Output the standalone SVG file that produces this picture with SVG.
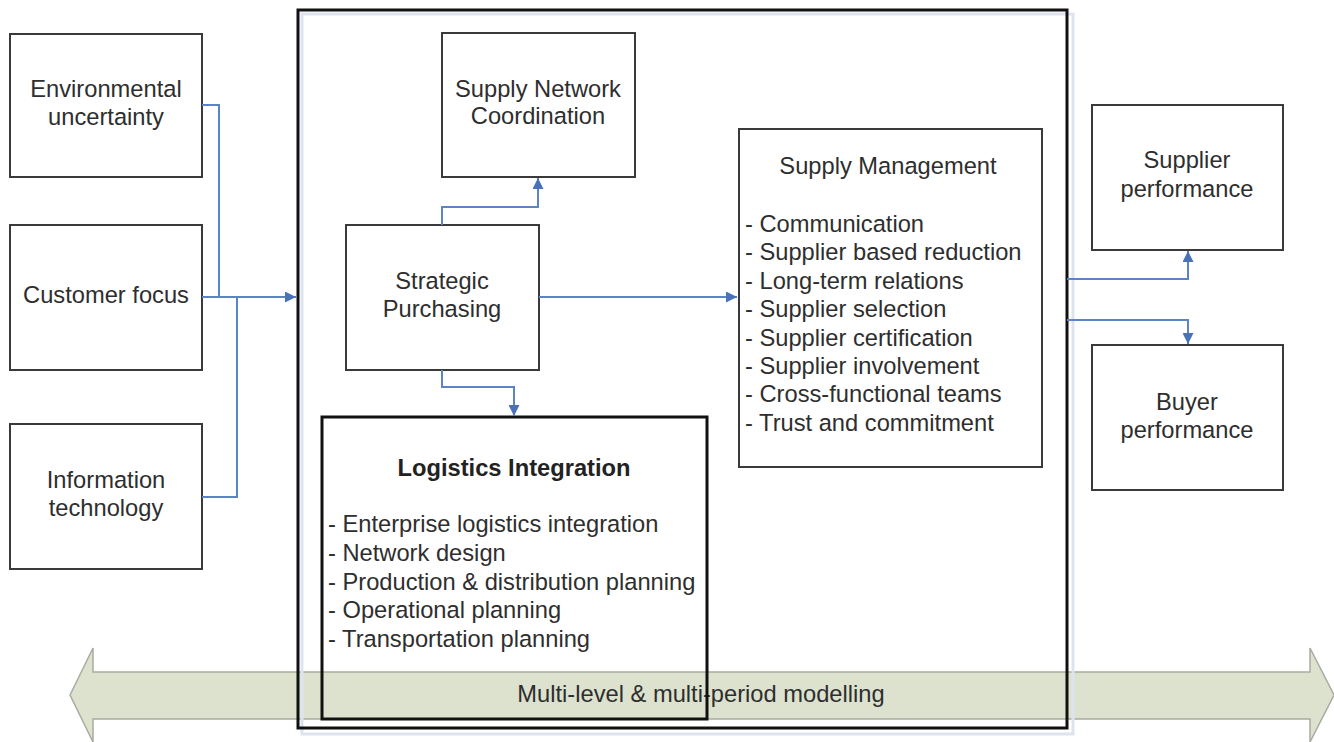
<svg xmlns="http://www.w3.org/2000/svg" width="1334" height="742" viewBox="0 0 1334 742">
<defs>
<style>
.box{fill:#fff;stroke:#3a3a3a;stroke-width:2}
.thick{fill:none;stroke:#111;stroke-width:3}
.t{font-family:"Liberation Sans",Arial,sans-serif;font-size:23.7px;fill:#2e2e2e}
.c{text-anchor:middle}
.b{font-weight:bold;fill:#222}
.conn{fill:none;stroke:#5b84c4;stroke-width:2}
</style>
<marker id="ah" viewBox="0 0 10 10" refX="10" refY="5" markerWidth="11" markerHeight="11" markerUnits="userSpaceOnUse" orient="auto">
<path d="M0,0 L10,5 L0,10 z" fill="#4a72b8"/>
</marker>
</defs>
<rect width="1334" height="742" fill="#fff"/>

<g id="modelling-arrow">
<polygon points="70,695 93,648 93,672 1310,672 1310,648 1334,695 1310,742 1310,719 93,719 93,742" fill="#dde2cf" stroke="#a9aba0" stroke-width="1.5"/>
<text class="t c" x="701" y="702">Multi-level &amp; multi-period modelling</text>
</g>

<g id="scope-frame">
<rect x="302" y="14" width="771" height="720" fill="none" stroke="#dde4ef" stroke-width="3"/>
<rect x="298" y="10" width="769" height="718" class="thick"/>
</g>

<g id="environmental-uncertainty">
<rect class="box" x="10" y="34" width="192" height="143"/>
<text class="t c" x="106" y="97">Environmental</text>
<text class="t c" x="106" y="125">uncertainty</text>
</g>
<g id="customer-focus">
<rect class="box" x="10" y="225" width="192" height="145"/>
<text class="t c" x="106" y="303">Customer focus</text>
</g>
<g id="information-technology">
<rect class="box" x="10" y="424" width="192" height="145"/>
<text class="t c" x="106" y="488">Information</text>
<text class="t c" x="106" y="516">technology</text>
</g>

<g id="supply-network-coordination">
<rect class="box" x="442" y="33" width="193" height="144"/>
<text class="t c" x="538" y="97">Supply Network</text>
<text class="t c" x="538" y="124">Coordination</text>
</g>
<g id="strategic-purchasing">
<rect class="box" x="346" y="225" width="193" height="145"/>
<text class="t c" x="442" y="289">Strategic</text>
<text class="t c" x="442" y="317">Purchasing</text>
</g>
<g id="logistics-integration">
<rect x="322" y="417" width="385" height="302" class="thick"/>
<text class="t c b" x="514" y="476">Logistics Integration</text>
<text class="t" x="328" y="532">- Enterprise logistics integration</text>
<text class="t" x="328" y="561">- Network design</text>
<text class="t" x="328" y="590">- Production &amp; distribution planning</text>
<text class="t" x="328" y="618">- Operational planning</text>
<text class="t" x="328" y="647">- Transportation planning</text>
</g>
<g id="supply-management">
<rect class="box" x="739" y="129" width="303" height="338"/>
<text class="t c" x="888" y="174">Supply Management</text>
<text class="t" x="745" y="232">- Communication</text>
<text class="t" x="745" y="260">- Supplier based reduction</text>
<text class="t" x="745" y="289">- Long-term relations</text>
<text class="t" x="745" y="317">- Supplier selection</text>
<text class="t" x="745" y="346">- Supplier certification</text>
<text class="t" x="745" y="374">- Supplier involvement</text>
<text class="t" x="745" y="402">- Cross-functional teams</text>
<text class="t" x="745" y="431">- Trust and commitment</text>
</g>
<g id="supplier-performance">
<rect class="box" x="1092" y="105" width="191" height="145"/>
<text class="t c" x="1187" y="168">Supplier</text>
<text class="t c" x="1187" y="197">performance</text>
</g>
<g id="buyer-performance">
<rect class="box" x="1092" y="345" width="191" height="145"/>
<text class="t c" x="1187" y="410">Buyer</text>
<text class="t c" x="1187" y="438">performance</text>
</g>

<g id="connectors">
<polyline class="conn" points="202,105 219,105 219,297"/>
<polyline class="conn" points="202,497 237,497 237,297"/>
<polyline class="conn" points="202,297 296,297" marker-end="url(#ah)"/>
<polyline class="conn" points="442,225 442,207 538,207 538,178" marker-end="url(#ah)"/>
<polyline class="conn" points="442,370 442,387 514,387 514,416" marker-end="url(#ah)"/>
<polyline class="conn" points="539,297 737,297" marker-end="url(#ah)"/>
<polyline class="conn" points="1067,279 1188,279 1188,251" marker-end="url(#ah)"/>
<polyline class="conn" points="1067,320 1188,320 1188,344" marker-end="url(#ah)"/>
</g>
</svg>
